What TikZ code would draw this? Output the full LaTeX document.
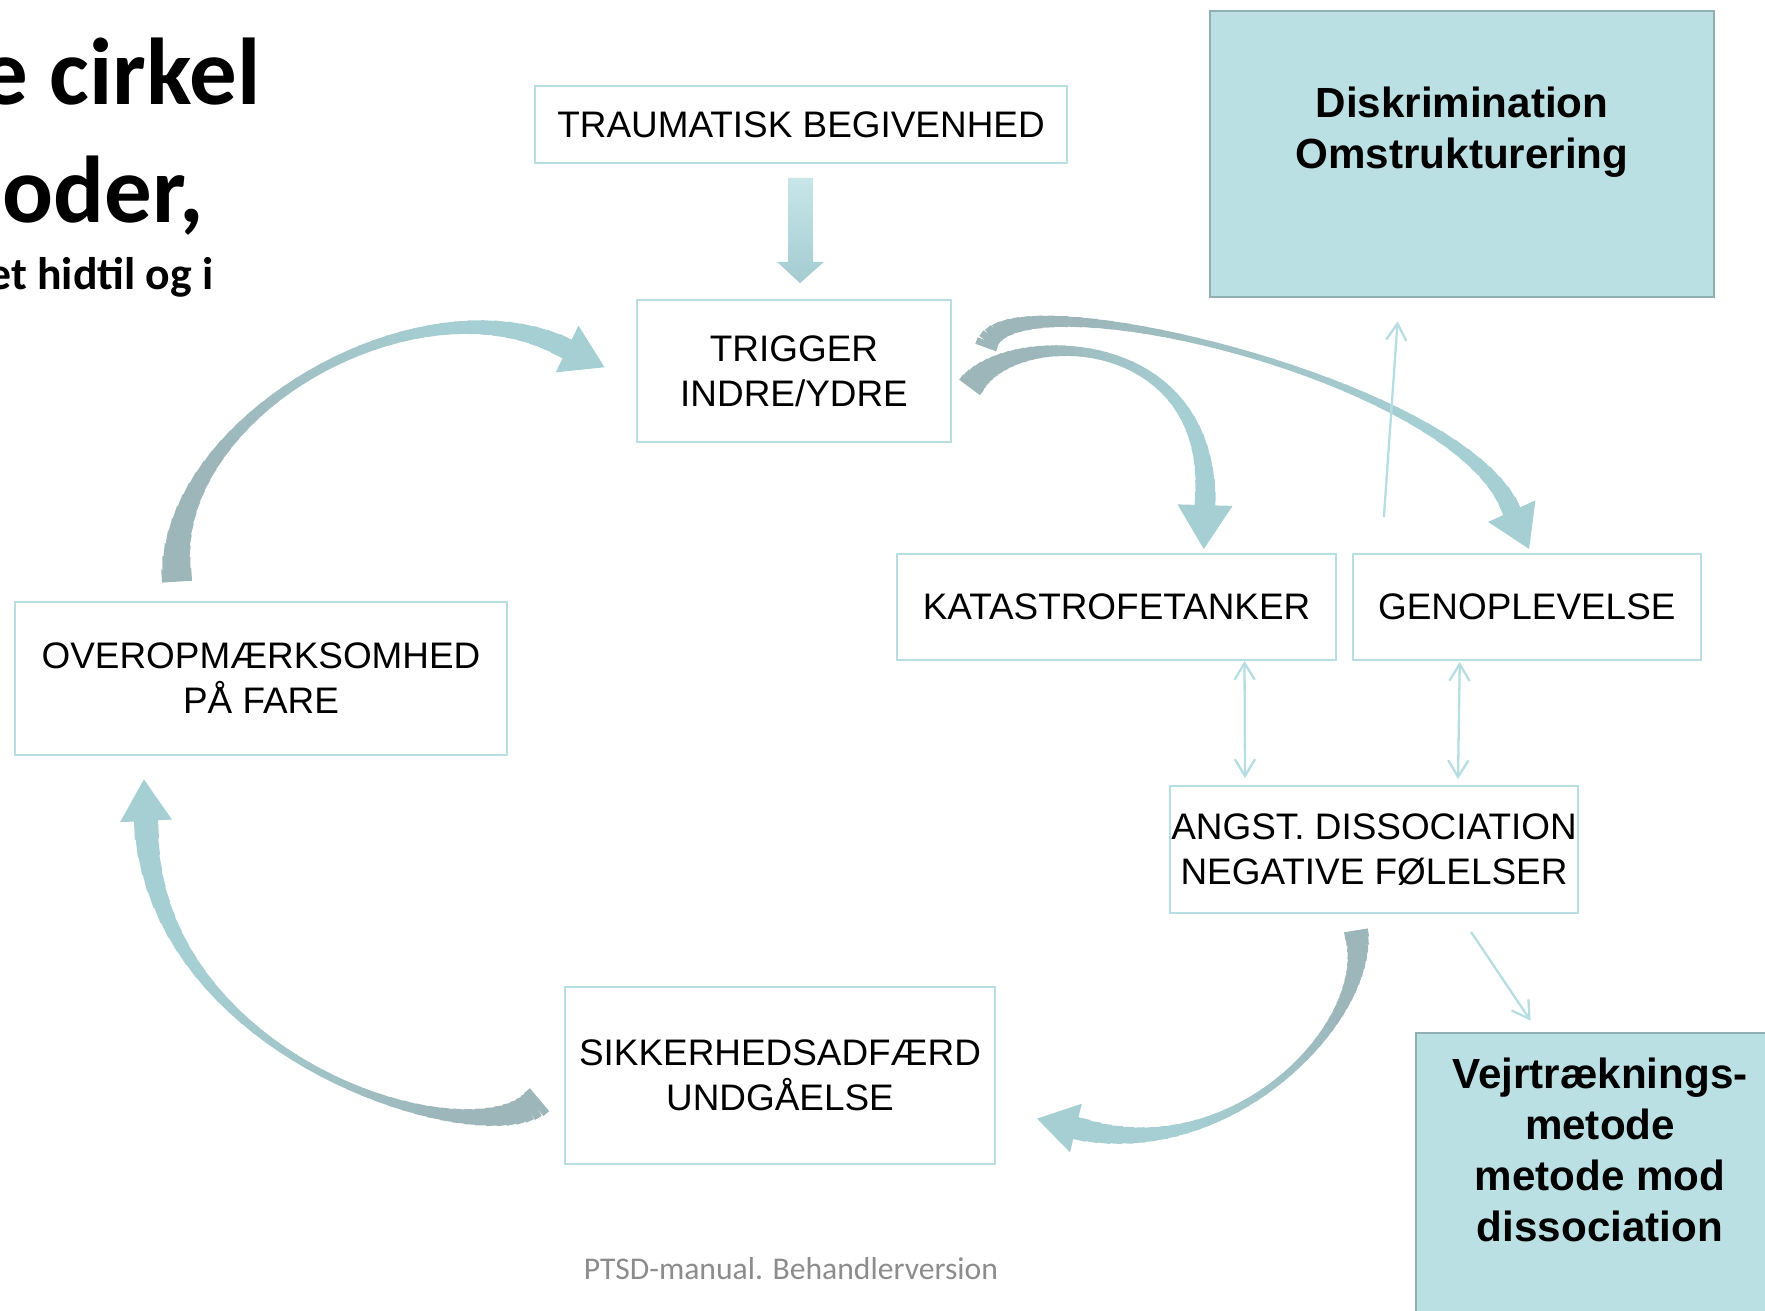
\documentclass[tikz,border=0pt]{standalone}
\usepackage{fontspec}
\setmainfont{Liberation Sans}
\newfontfamily\calibri{Carlito}
\usepackage{tikz}
\usetikzlibrary{arrows.meta,positioning,calc}
\definecolor{stageEdge}{RGB}{183,222,226}
\definecolor{methodFill}{RGB}{187,224,227}
\definecolor{methodEdge}{RGB}{143,175,178}
\definecolor{arrowDark}{RGB}{156,182,186}
\definecolor{arrowLight}{RGB}{166,207,211}
\definecolor{thinTeal}{RGB}{182,221,225}
\definecolor{dropTop}{RGB}{200,230,233}
\definecolor{dropBottom}{RGB}{163,204,208}
\definecolor{footGray}{RGB}{140,140,140}

\newlength{\pxu}
\setlength{\pxu}{0.2mm}

% tapered curved block arrow: name, start, control 1, control 2, end, tail width, middle width, end width, head width
\newcommand{\bendarrow}[9]{%
  \foreach \seg in {0,...,40}{%
    \path #2 .. controls #3 and #4 .. #5 coordinate[pos=\seg/40] (#1-\seg);
  }
  \foreach \seg [evaluate=\seg as \tpos using \seg/40, evaluate=\seg as \segnext using int(\seg+1)] in {0,...,39}{%
    \pgfmathsetmacro{\wid}{\tpos<0.5 ? #7+(#6-#7)*(1-2*\tpos)^2 : #7+(#8-#7)*(2*\tpos-1)^2}%
    \pgfmathsetmacro{\mix}{max(0,min(100,(0.75-\tpos)*200))}%
    \draw[line width=\wid\pxu, draw=arrowDark!\mix!arrowLight, shorten <=-0.3pt, shorten >=-0.3pt] (#1-\seg) -- (#1-\segnext);
  }
  \pgfmathsetmacro{\headlen}{0.8*#9*0.569}%
  \pgfmathsetmacro{\headhalf}{0.5*#9*0.569}%
  \fill[arrowLight] ($(#1-40)!-\headlen pt!(#1-39)$) -- ($(#1-40)!\headhalf pt!90:(#1-39)$) -- ($(#1-40)!\headhalf pt!-90:(#1-39)$) -- cycle;
}

\begin{document}
\begin{tikzpicture}[
    x=0.2mm, y=-0.2mm,
    stage/.style={rectangle, draw=stageEdge, line width=1pt, inner sep=0pt, align=center, font=\fontsize{21}{25.5}\selectfont},
    method/.style={rectangle, draw=methodEdge, fill=methodFill, line width=1.6pt},
    methodtext/.style={inner sep=0pt, align=center, font=\bfseries\fontsize{24}{29}\selectfont},
    title/.style={inner sep=0pt, font=\calibri\bfseries\fontsize{54}{60}\selectfont},
    subtitle/.style={inner sep=0pt, font=\calibri\bfseries\fontsize{26}{30}\selectfont},
    footer/.style={text=footGray, font=\calibri\fontsize{18}{22}\selectfont},
    thinline/.style={draw=thinTeal, line width=1.3pt},
    barb/.tip={Straight Barb[length=9.5pt,width=11.5pt]},
  ]
  \useasboundingbox (0,0) rectangle (1765,1310);
  \clip (0,0) rectangle (1765,1310);

  % Title, cut off at the left edge
  \node[title, anchor=base east] (titleA) at (261,104) {e cirkel};
  \node[title, anchor=base east] (titleB) at (204,222) {oder,};
  \node[subtitle, anchor=base east] (titleC) at (214,289) {et hidtil og i};

  % Stages of the circle
  \node[stage, minimum width=532\pxu, minimum height=77\pxu] (trauma) at (801,124.5) {TRAUMATISK BEGIVENHED};
  \node[stage, minimum width=314\pxu, minimum height=142\pxu] (trigger) at (794,371) {TRIGGER\\INDRE/YDRE};
  \node[stage, minimum width=439\pxu, minimum height=106\pxu] (katast) at (1116.5,607) {KATASTROFETANKER};
  \node[stage, minimum width=348\pxu, minimum height=106\pxu, right=15\pxu of katast] (genop) {GENOPLEVELSE};
  \node[stage, minimum width=492\pxu, minimum height=153\pxu] (overop) at (261,678.5) {OVEROPMÆRKSOMHED\\PÅ FARE};
  \node[stage, minimum width=408\pxu, minimum height=127\pxu] (angst) at (1374,849.5) {ANGST. DISSOCIATION\\NEGATIVE FØLELSER};
  \node[stage, minimum width=430\pxu, minimum height=177\pxu] (sikker) at (780,1075.5) {SIKKERHEDSADFÆRD\\UNDGÅELSE};

  % Methods
  \node[method, minimum width=504\pxu, minimum height=286\pxu] (discrim) at (1462,154) {};
  \node[methodtext] (discrimtxt) at ($(discrim.north)+(0,123)$) {Diskrimination\\Omstrukturering};
  \node[method, minimum width=374\pxu, minimum height=307\pxu] (vejr) at (1603,1186.5) {};
  \node[methodtext] (vejrtxt) at ($(vejr.north)+(-3,118)$) {Vejrtræknings-\\metode\\metode mod\\dissociation};

  \node[footer] (foot) at (791,1269) {PTSD-manual. Behandlerversion};

  % Block arrow from the event to the trigger
  \shade[top color=dropTop, bottom color=dropBottom]
    ($(trauma.south)+(-13,14)$) -- ($(trauma.south)+(12,14)$) -- ($(trauma.south)+(12,98)$)
    -- ($(trauma.south)+(23,98)$) -- ($(trigger.north)+(6,-16)$) -- ($(trauma.south)+(-24,98)$)
    -- ($(trauma.south)+(-13,98)$) -- cycle;

  % Ends of the curved arrows
  \coordinate (overOut) at ($(overop.north)+(-84,-20)$);
  \coordinate (trigIn) at ($(trigger.west)+(-69,-22)$);
  \coordinate (trigOutB) at ($(trigger.east)+(18,16)$);
  \coordinate (katIn) at ($(katast.north)+(88.5,-48)$);
  \coordinate (trigOutC) at ($(trigger.east)+(34,-24)$);
  \coordinate (genIn) at ($(genop.north)+(-15,-42)$);
  \coordinate (angOut) at ($(angst.south)+(-18,17)$);
  \coordinate (sikIn) at ($(sikker.east)+(80,52.5)$);
  \coordinate (sikOut) at ($(sikker.west)+(-25,24.5)$);
  \coordinate (overIn) at ($(overop.south)+(-115,65)$);

  % Curved arrows of the circle
  \bendarrow{hyper}{(overOut)}{+(-17,-162)}{+(-148,-79)}{(trigIn)}{30}{9}{22}{52}
  \bendarrow{tgen}{(trigOutC)}{+(15,-77)}{+(-50,-132)}{(genIn)}{22}{6}{20}{52}
  \bendarrow{tkat}{(trigOutB)}{+(41,-62)}{+(10,-176)}{(katIn)}{26}{9}{22}{55}
  \bendarrow{asik}{(angOut)}{+(19,90)}{+(155,42)}{(sikIn)}{24}{7}{24}{50}
  \bendarrow{sover}{(sikOut)}{+(-60,60)}{+(4,240)}{(overIn)}{30}{7}{26}{52}

  % Thin arrows
  \draw[thinline, -barb] ($(genop.north west)+(32,-36)$) -- ($(discrim.south west)+(189,23)$);
  \draw[thinline, barb-barb] ($(katast.south)+(128,0)$) -- ($(angst.north)+(-129,-7)$);
  \draw[thinline, barb-barb] ($(genop.south)+(-67,1)$) -- ($(angst.north)+(84,-6)$);
  \draw[thinline, -barb] ($(angst.south)+(97,18)$) -- ($(vejr.north west)+(116,-11)$);

\end{tikzpicture}
\end{document}
